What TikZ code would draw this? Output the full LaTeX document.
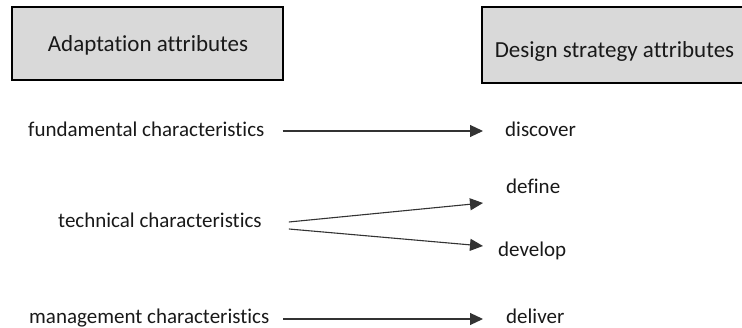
\documentclass[tikz,border=0pt]{standalone}
\usepackage{fontspec}
\setmainfont{Carlito}[Ligatures={NoCommon}]
\usetikzlibrary{arrows.meta}
\definecolor{boxgray}{HTML}{D9D9D9}
\tikzset{
  hdrbox/.style={draw=black, line width=1.6pt, fill=boxgray, inner sep=0pt},
  hdr/.style={inner sep=0pt, font=\fontsize{23}{27}\selectfont, text=black!90},
  lbl/.style={inner sep=0pt, font=\fontsize{21}{25}\selectfont, text=black!90},
  arr/.style={draw=black!80, line width=1.1pt, -{Triangle[length=13pt,width=12pt]}}
}
\begin{document}
\begin{tikzpicture}[x=1pt,y=-1pt]
\useasboundingbox (0,0) rectangle (742,328);
\clip (0,0) rectangle (742,328);
% header boxes
\node[hdrbox, minimum width=271pt, minimum height=73pt] (b1) at (147.5,43.5) {};
\node[hdr, anchor=base] (h1) at (148,52) {Adaptation attributes};
\node[hdrbox, minimum width=266pt, minimum height=76pt] (b2) at (615,45) {};
\node[hdr, anchor=base] (h2) at (614.5,58) {Design strategy attributes};
% left labels
\node[lbl, anchor=base west] (fund) at (28,137) {fundamental characteristics};
\node[lbl, anchor=base west] (tech) at (58,228) {technical characteristics};
\node[lbl, anchor=base west] (mgmt) at (29,324) {management characteristics};
% right labels
\node[lbl, anchor=base west] (disc) at (505,137) {discover};
\node[lbl, anchor=base west] (defi) at (506,194) {define};
\node[lbl, anchor=base west] (deve) at (498,257) {develop};
\node[lbl, anchor=base west] (deli) at (506,324) {deliver};
% connectors
\coordinate (fs) at ([xshift=18pt,yshift=6pt]fund.base east);
\coordinate (ft) at ([xshift=-22pt,yshift=6pt]disc.base west);
\draw[arr] (fs) -- (ft);
\coordinate (ts1) at ([xshift=27pt,yshift=6pt]tech.base east);
\coordinate (ts2) at ([xshift=27pt,yshift=-1pt]tech.base east);
\coordinate (tt1) at ([xshift=-23pt,yshift=-9pt]defi.base west);
\coordinate (tt2) at ([xshift=-15pt,yshift=11pt]deve.base west);
\draw[arr] (ts1) -- (tt1);
\draw[arr] (ts2) -- (tt2);
\coordinate (ms) at ([xshift=14pt,yshift=5pt]mgmt.base east);
\coordinate (mt) at ([xshift=-23pt,yshift=5pt]deli.base west);
\draw[arr] (ms) -- (mt);
\end{tikzpicture}
\end{document}
